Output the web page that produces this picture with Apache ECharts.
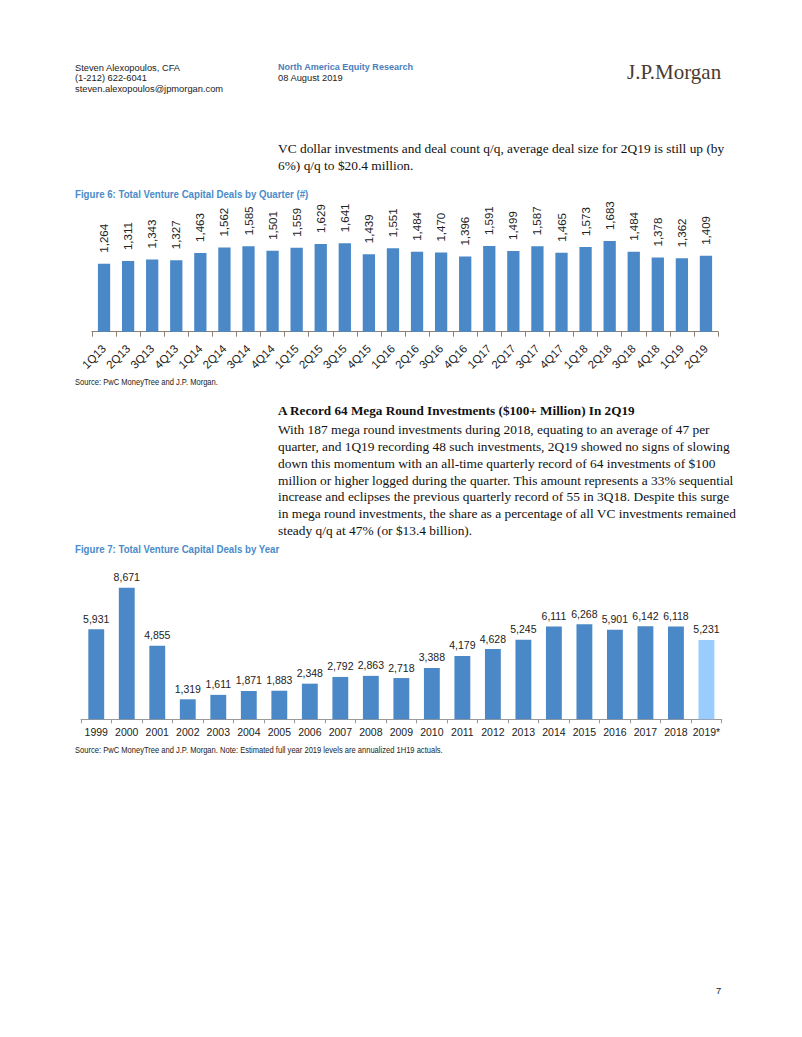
<!DOCTYPE html>
<html>
<head>
<meta charset="utf-8">
<script src="https://cdn.jsdelivr.net/npm/echarts@6/dist/echarts.min.js"></script>
<style>
  html, body { margin:0; padding:0; background:#fff; }
  #page { position:relative; width:802px; height:1037px; overflow:hidden; background:#fff; }
  #chart { position:absolute; left:0; top:0; width:802px; height:1037px; }
  .t { position:absolute; white-space:nowrap; z-index:2; }
  .hdr { font-family:'Liberation Sans', Arial, sans-serif; font-size:9.6px; color:#222; line-height:12px; transform-origin:0 50%; transform:scaleX(0.97); }
  .blue { color:#4A7EBB; font-weight:bold; }
  .body { font-family:'Liberation Serif', 'Times New Roman', serif; font-size:13.4px; color:#111; line-height:17px; }
  .fig { font-family:'Liberation Sans', Arial, sans-serif; font-weight:bold; font-size:11.5px; color:#4A8BC9; line-height:14px; transform-origin:0 50%; transform:scaleX(0.84); }
  .src { font-family:'Liberation Sans', Arial, sans-serif; font-size:9px; color:#222; line-height:10px; transform-origin:0 50%; transform:scaleX(0.84); }
  .logo { font-family:'Liberation Serif', 'Times New Roman', serif; font-size:21px; color:#4B3A2E; line-height:24px; letter-spacing:0px; }
</style>
</head>
<body>
<div id="page">
  <div id="chart"></div>

  <div class="t hdr" style="left:75px; top:62px;">Steven Alexopoulos, CFA</div>
  <div class="t hdr" style="left:75px; top:72px;">(1-212) 622-6041</div>
  <div class="t hdr" style="left:75px; top:83px;">steven.alexopoulos@jpmorgan.com</div>
  <div class="t hdr blue" style="left:278px; top:61px; font-size:9.3px;">North America Equity Research</div>
  <div class="t hdr" style="left:278px; top:72px;">08 August 2019</div>
  <div class="t logo" style="left:627px; top:60px;">J.P.Morgan</div>

  <div class="t body" style="left:278px; top:140px;">VC dollar investments and deal count q/q, average deal size for 2Q19 is still up (by</div>
  <div class="t body" style="left:278px; top:157px;">6%) q/q to $20.4 million.</div>

  <div class="t fig" style="left:75px; top:187px;">Figure 6: Total Venture Capital Deals by Quarter (#)</div>
  <div class="t src" style="left:75px; top:377px;">Source: PwC MoneyTree and J.P. Morgan.</div>

  <div class="t body" style="left:278px; top:402px; font-weight:bold; font-size:13.2px;">A Record 64 Mega Round Investments ($100+ Million) In 2Q19</div>
  <div class="t body" style="left:278px; top:421px;">With 187 mega round investments during 2018, equating to an average of 47 per</div>
  <div class="t body" style="left:278px; top:438px;">quarter, and 1Q19 recording 48 such investments, 2Q19 showed no signs of slowing</div>
  <div class="t body" style="left:278px; top:455px;">down this momentum with an all-time quarterly record of 64 investments of $100</div>
  <div class="t body" style="left:278px; top:472px;">million or higher logged during the quarter. This amount represents a 33% sequential</div>
  <div class="t body" style="left:278px; top:488px;">increase and eclipses the previous quarterly record of 55 in 3Q18. Despite this surge</div>
  <div class="t body" style="left:278px; top:505px;">in mega round investments, the share as a percentage of all VC investments remained</div>
  <div class="t body" style="left:278px; top:522px;">steady q/q at 47% (or $13.4 billion).</div>

  <div class="t fig" style="left:75px; top:542px;">Figure 7: Total Venture Capital Deals by Year</div>
  <div class="t src" style="left:75px; top:745px;">Source: PwC MoneyTree and J.P. Morgan. Note: Estimated full year 2019 levels are annualized 1H19 actuals.</div>

  <div class="t hdr" style="left:716px; top:985px;">7</div>
</div>
<script>
// ---- Data ----
const quarters = ['1Q13','2Q13','3Q13','4Q13','1Q14','2Q14','3Q14','4Q14','1Q15','2Q15','3Q15','4Q15','1Q16','2Q16','3Q16','4Q16','1Q17','2Q17','3Q17','4Q17','1Q18','2Q18','3Q18','4Q18','1Q19','2Q19'];
const quarterDeals = [1264,1311,1343,1327,1463,1562,1585,1501,1559,1629,1641,1439,1551,1484,1470,1396,1591,1499,1587,1465,1573,1683,1484,1378,1362,1409];

const years = ['1999','2000','2001','2002','2003','2004','2005','2006','2007','2008','2009','2010','2011','2012','2013','2014','2015','2016','2017','2018','2019*'];
const yearDeals = [5931,8671,4855,1319,1611,1871,1883,2348,2792,2863,2718,3388,4179,4628,5245,6111,6268,5901,6142,6118,5231];
const estimatedYears = ['2019*'];

// ---- Chart ----
const SANS = "'Liberation Sans', Arial, sans-serif";
const BLUE = '#4A88C7';
const LIGHT = '#99CCFF';
const fmt = v => Number(v).toLocaleString('en-US');

const chart = echarts.init(document.getElementById('chart'), null, { renderer: 'svg' });
chart.setOption({
  animation: false,
  backgroundColor: '#fff',
  grid: [
    { left: 92, right: 84, top: 224, bottom: 705.3, containLabel: false },
    { left: 81, right: 80.3, top: 567.6, bottom: 317.7, containLabel: false }
  ],
  xAxis: [
    {
      gridIndex: 0, type: 'category', data: quarters,
      axisLine: { lineStyle: { color: '#8C8076', width: 1 } },
      axisTick: { show: true, length: 5, lineStyle: { color: '#8C8076' } },
      axisLabel: { rotate: 45, margin: 15, fontSize: 11.5, color: '#222', fontFamily: SANS, interval: 0 }
    },
    {
      gridIndex: 1, type: 'category', data: years,
      axisLine: { lineStyle: { color: '#9A9A9A', width: 1 } },
      axisTick: { show: true, length: 4, lineStyle: { color: '#9A9A9A' } },
      axisLabel: { margin: 7, fontSize: 10.5, color: '#222', fontFamily: SANS, interval: 0 }
    }
  ],
  yAxis: [
    { gridIndex: 0, type: 'value', min: 0, max: 2000, show: false, splitLine: { show: false } },
    { gridIndex: 1, type: 'value', min: 0, max: 10000, show: false, splitLine: { show: false } }
  ],
  series: [
    {
      type: 'bar', xAxisIndex: 0, yAxisIndex: 0, data: quarterDeals,
      barWidth: '51%',
      itemStyle: { color: BLUE },
      label: {
        show: true, position: 'top', rotate: 90, align: 'left', verticalAlign: 'middle',
        distance: 11, fontSize: 11.5, color: '#222', fontFamily: SANS,
        formatter: p => fmt(p.value)
      }
    },
    {
      type: 'bar', xAxisIndex: 1, yAxisIndex: 1, data: yearDeals,
      barWidth: '52%',
      itemStyle: { color: p => estimatedYears.includes(p.name) ? LIGHT : BLUE },
      label: {
        show: true, position: 'top', distance: 5, fontSize: 10.5, color: '#222', fontFamily: SANS,
        formatter: p => fmt(p.value)
      }
    }
  ]
});
</script>
</body>
</html>
